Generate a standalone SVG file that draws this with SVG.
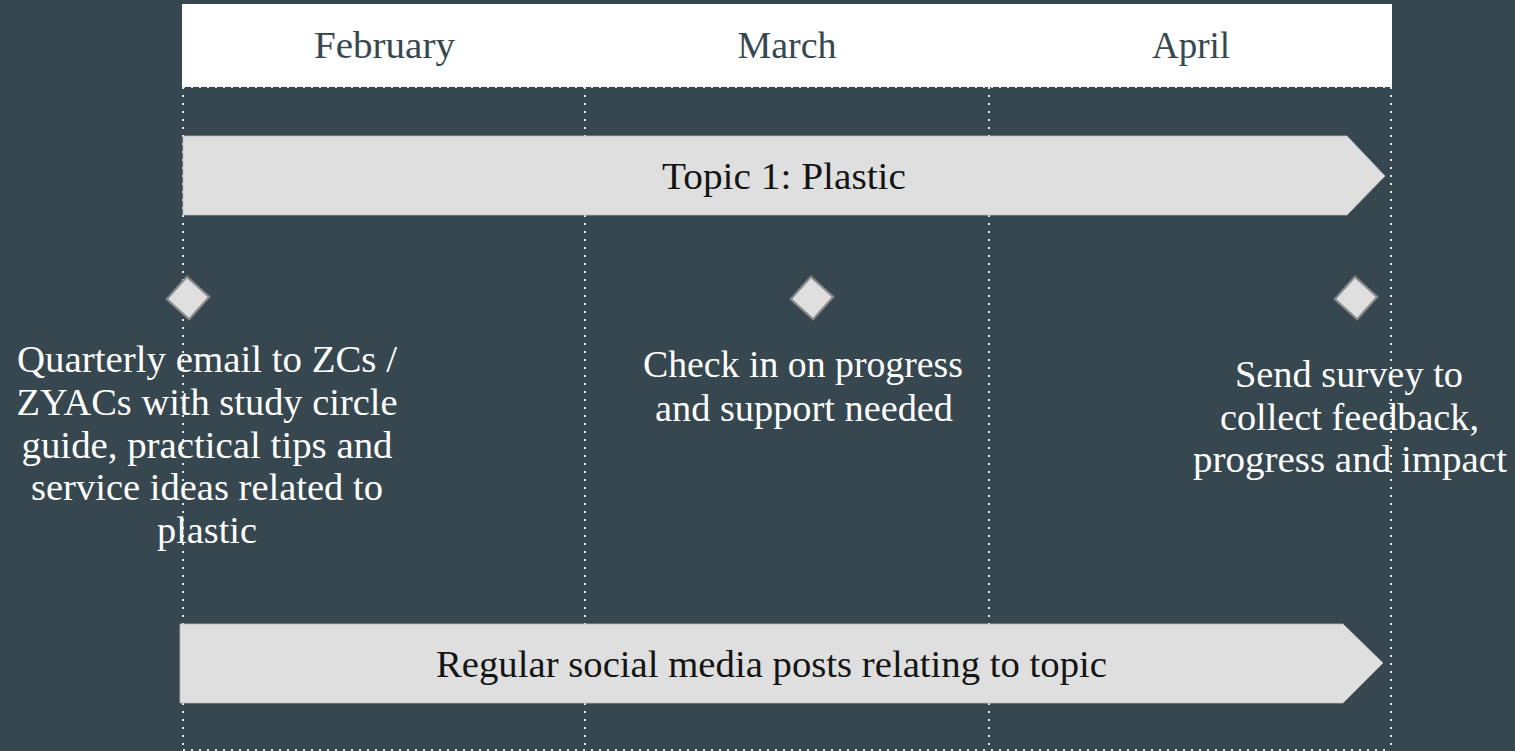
<svg xmlns="http://www.w3.org/2000/svg" width="1515" height="751" viewBox="0 0 1515 751">
  <style>
    .grid { stroke: #dfe4e6; stroke-width: 2; stroke-dasharray: 2 6; fill: none; }
    .hdr { font-family: "Liberation Serif", "DejaVu Serif", serif; font-size: 38px; fill: #37474f; text-anchor: middle; }
    .bar { fill: #dfdfdf; stroke: #b8bcbe; stroke-width: 0.8; }
    .bartxt { font-family: "Liberation Serif", "DejaVu Serif", serif; font-size: 38px; fill: #141414; text-anchor: middle; }
    .body { font-family: "Liberation Serif", "DejaVu Serif", serif; font-size: 38px; fill: #ffffff; text-anchor: middle; }
    .dia { fill: #dfdfdf; stroke: #8a8a8a; stroke-width: 2.2; }
  </style>
  <rect x="0" y="0" width="1515" height="751" fill="#37474f"/>

  <g id="header">
    <rect x="182" y="4" width="1210" height="83" fill="#ffffff"/>
    <text class="hdr" x="384.5" y="58" textLength="141" lengthAdjust="spacingAndGlyphs">February</text>
    <text class="hdr" x="787" y="58">March</text>
    <text class="hdr" x="1191" y="58" textLength="78" lengthAdjust="spacingAndGlyphs">April</text>
  </g>

  <g id="grid-lines">
    <line class="grid" x1="183" y1="87" x2="1391" y2="87"/>
    <line class="grid" x1="183" y1="750" x2="1391" y2="750"/>
    <line class="grid" x1="183" y1="87" x2="183" y2="751"/>
    <line class="grid" x1="585" y1="87" x2="585" y2="751"/>
    <line class="grid" x1="989" y1="87" x2="989" y2="751"/>
    <line class="grid" x1="1391" y1="87" x2="1391" y2="751"/>
  </g>

  <g id="topic-arrow">
    <polygon class="bar" points="183,136 1347,136 1385,176 1347,215 183,215"/>
    <text class="bartxt" x="784" y="189" textLength="244" lengthAdjust="spacingAndGlyphs">Topic 1: Plastic</text>
  </g>

  <g id="social-arrow">
    <polygon class="bar" points="180,624 1343,624 1383,663 1343,703 180,703"/>
    <text class="bartxt" x="771.5" y="677" textLength="671" lengthAdjust="spacingAndGlyphs">Regular social media posts relating to topic</text>
  </g>

  <g id="milestone-feb">
    <rect class="dia" x="-15" y="-15" width="30" height="30" transform="translate(188,298) rotate(42)"/>
    <text class="body" x="207" y="372" textLength="380" lengthAdjust="spacingAndGlyphs">Quarterly email to ZCs /</text>
    <text class="body" x="207" y="415" textLength="381" lengthAdjust="spacingAndGlyphs">ZYACs with study circle</text>
    <text class="body" x="207" y="458" textLength="371" lengthAdjust="spacingAndGlyphs">guide, practical tips and</text>
    <text class="body" x="207" y="500" textLength="352" lengthAdjust="spacingAndGlyphs">service ideas related to</text>
    <text class="body" x="207" y="543" textLength="100" lengthAdjust="spacingAndGlyphs">plastic</text>
  </g>

  <g id="milestone-mar">
    <rect class="dia" x="-15" y="-15" width="30" height="30" transform="translate(812,298) rotate(42)"/>
    <text class="body" x="803" y="377" textLength="320" lengthAdjust="spacingAndGlyphs">Check in on progress</text>
    <text class="body" x="804" y="421" textLength="298" lengthAdjust="spacingAndGlyphs">and support needed</text>
  </g>

  <g id="milestone-apr">
    <rect class="dia" x="-15" y="-15" width="30" height="30" transform="translate(1356,298) rotate(42)"/>
    <text class="body" x="1349" y="387" textLength="228" lengthAdjust="spacingAndGlyphs">Send survey to</text>
    <text class="body" x="1349.5" y="430" textLength="259" lengthAdjust="spacingAndGlyphs">collect feedback,</text>
    <text class="body" x="1350" y="472" textLength="314" lengthAdjust="spacingAndGlyphs">progress and impact</text>
  </g>
</svg>
